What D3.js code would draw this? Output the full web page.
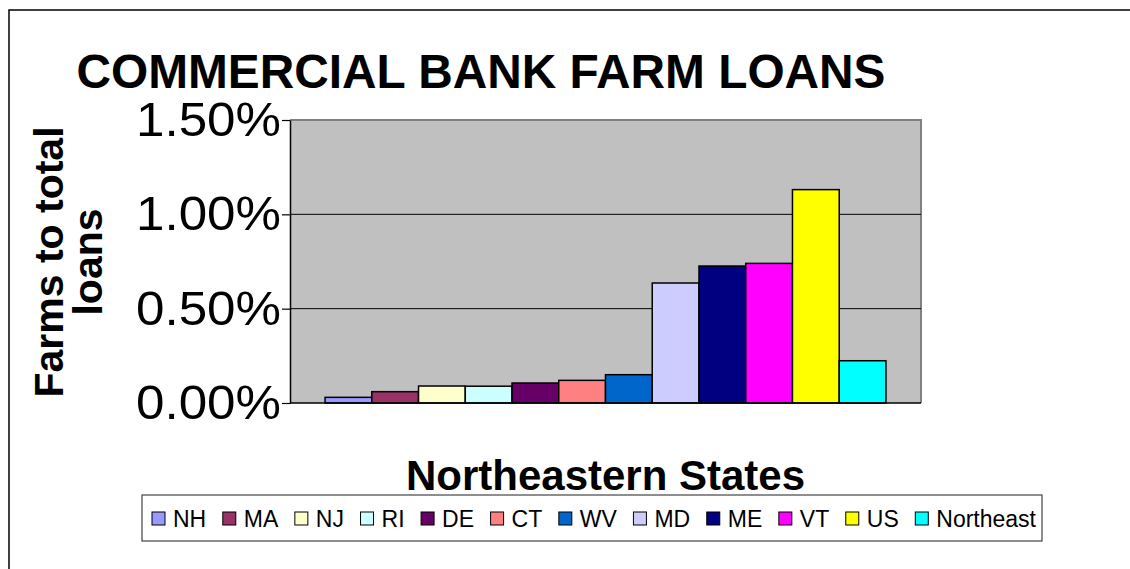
<!DOCTYPE html>
<html>
<head>
<meta charset="utf-8">
<script src="https://cdn.jsdelivr.net/npm/d3@7"></script>
<style>
  body { margin: 0; background: #fff; }
  svg { display: block; }
  text { font-family: Arial, "Liberation Sans", sans-serif; fill: #000; }
</style>
</head>
<body>
<svg id="chart" width="1130" height="569"></svg>
<script>
// Farm loans as a share of total commercial bank loans
const states = ["NH", "MA", "NJ", "RI", "DE", "CT", "WV", "MD", "ME", "VT", "US", "Northeast"];
const farmLoanShare = [0.0003, 0.0006, 0.0009, 0.00089, 0.00106, 0.0012, 0.0015, 0.00636, 0.00726, 0.0074, 0.01131, 0.00224];
const seriesColors = ["#9999FF", "#993366", "#FFFFCC", "#CCFFFF", "#660066", "#FF8080",
                      "#0066CC", "#CCCCFF", "#000080", "#FF00FF", "#FFFF00", "#00FFFF"];
const yTicks = [0, 0.005, 0.01, 0.015];

const chartTitle = "COMMERCIAL BANK FARM LOANS";
const yTitleLines = ["Farms to total", "loans"];
const xTitle = "Northeastern States";

const svg = d3.select("#chart");
const plot = { left: 290, right: 921, top: 120, bottom: 403 };

// outer frame (continues past the right and bottom edges)
svg.append("path")
  .attr("d", "M9,569V10H1130")
  .attr("fill", "none").attr("stroke", "#000").attr("stroke-width", 1.5);

const x = d3.scaleBand()
  .domain(states)
  .range([plot.left, plot.right])
  .paddingInner(0)
  .paddingOuter(0.75);

const y = d3.scaleLinear()
  .domain([0, 0.015])
  .range([plot.bottom, plot.top]);

// plot area background
svg.append("rect")
  .attr("x", plot.left).attr("y", plot.top)
  .attr("width", plot.right - plot.left).attr("height", plot.bottom - plot.top)
  .attr("fill", "#C0C0C0");

// plot area top/right border
svg.append("path")
  .attr("d", `M${plot.left},${plot.top}H${plot.right}V${plot.bottom}`)
  .attr("fill", "none").attr("stroke", "#808080").attr("stroke-width", 2);

// horizontal gridlines
svg.append("g")
  .selectAll("line")
  .data(yTicks.filter(t => t > 0 && t < 0.015))
  .join("line")
  .attr("x1", plot.left).attr("x2", plot.right)
  .attr("y1", d => y(d)).attr("y2", d => y(d))
  .attr("stroke", "#000").attr("stroke-width", 1);

// bars
svg.append("g")
  .selectAll("rect")
  .data(states)
  .join("rect")
  .attr("x", d => x(d))
  .attr("y", (d, i) => y(farmLoanShare[i]))
  .attr("width", x.bandwidth())
  .attr("height", (d, i) => y(0) - y(farmLoanShare[i]))
  .attr("fill", (d, i) => seriesColors[i])
  .attr("stroke", "#000").attr("stroke-width", 1.5);

// y axis
const yAxis = svg.append("g")
  .attr("transform", `translate(${plot.left},0)`)
  .call(d3.axisLeft(y).tickValues(yTicks).tickFormat(d3.format(".2%"))
    .tickSize(8).tickSizeOuter(0).tickPadding(1));
yAxis.select(".domain").attr("stroke", "#000").attr("stroke-width", 1.5);
yAxis.selectAll(".tick line").attr("stroke", "#000").attr("stroke-width", 1.2);
yAxis.selectAll(".tick text")
  .attr("font-family", "Arial, 'Liberation Sans', sans-serif")
  .attr("font-size", 48).attr("fill", "#000")
  .attr("textLength", 145).attr("lengthAdjust", "spacingAndGlyphs");

// x axis baseline
svg.append("line")
  .attr("x1", plot.left).attr("x2", plot.right)
  .attr("y1", plot.bottom).attr("y2", plot.bottom)
  .attr("stroke", "#000").attr("stroke-width", 1.5);

// chart title
svg.append("text")
  .attr("x", 481).attr("y", 88)
  .attr("text-anchor", "middle")
  .attr("font-size", 47.8).attr("font-weight", "bold")
  .text(chartTitle);

// y axis title (two lines, rotated)
const yTitle = svg.append("text")
  .attr("transform", "translate(63,262) rotate(-90)")
  .attr("text-anchor", "middle")
  .attr("font-size", 41).attr("font-weight", "bold");
yTitle.selectAll("tspan")
  .data(yTitleLines)
  .join("tspan")
  .attr("x", 0)
  .attr("dy", (d, i) => i === 0 ? 0 : 39)
  .text(d => d);

// x axis title
svg.append("text")
  .attr("x", (plot.left + plot.right) / 2).attr("y", 490)
  .attr("text-anchor", "middle")
  .attr("font-size", 42).attr("font-weight", "bold")
  .text(xTitle);

// legend
const legend = svg.append("g");
legend.append("rect")
  .attr("x", 142).attr("y", 495).attr("width", 900).attr("height", 46)
  .attr("fill", "#fff").attr("stroke", "#444").attr("stroke-width", 1.2);

const legendStart = 152, legendEnd = 1036, swatch = 13, swatchGap = 8;
const items = legend.selectAll("g.item")
  .data(states)
  .join("g").attr("class", "item");
items.append("rect")
  .attr("width", swatch).attr("height", swatch)
  .attr("y", 512)
  .attr("fill", (d, i) => seriesColors[i])
  .attr("stroke", "#000").attr("stroke-width", 1);
items.append("text")
  .attr("y", 527)
  .attr("font-size", 23)
  .text(d => d);

const widths = [];
items.select("text").each(function () { widths.push(this.getComputedTextLength()); });
const used = widths.reduce((s, w) => s + swatch + swatchGap + w, 0);
const gap = (legendEnd - legendStart - used) / (states.length - 1);
let cursor = legendStart;
items.each(function (d, i) {
  const g = d3.select(this);
  g.select("rect").attr("x", cursor);
  g.select("text").attr("x", cursor + swatch + swatchGap);
  cursor += swatch + swatchGap + widths[i] + gap;
});
</script>
</body>
</html>
